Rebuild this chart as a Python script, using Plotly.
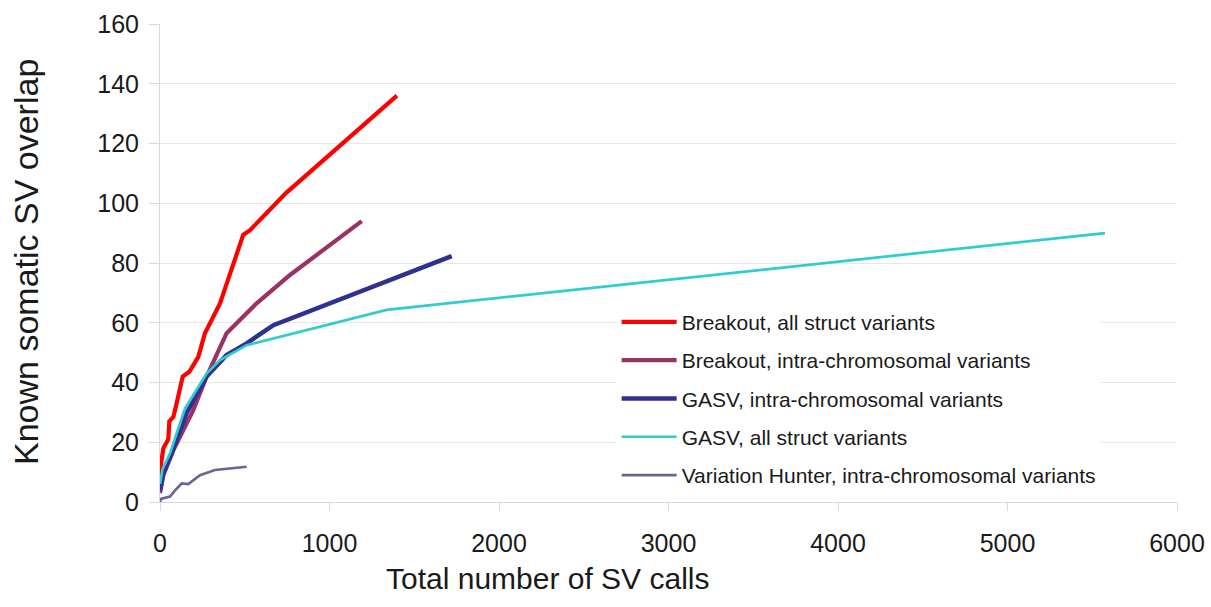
import plotly.graph_objects as go

# ---- data ----
breakout_all_x = [0, 4, 20, 30, 49, 55, 79, 98, 134, 173, 226, 265, 354, 491, 531, 743, 1398]
breakout_all_y = [9, 12, 18, 19, 21, 27, 28.5, 33, 42, 43.6, 48.6, 56.5, 66.5, 89.4, 91, 103.4, 136]

breakout_intra_x = [0, 20, 79, 138, 197, 275, 393, 570, 767, 1190]
breakout_intra_y = [3, 9, 17.4, 24, 30.8, 42, 56.5, 66.5, 76, 94]

gasv_intra_x = [0, 20, 69, 157, 275, 393, 511, 669, 1721]
gasv_intra_y = [4, 10, 16.3, 29.7, 42, 49.2, 53.1, 59.2, 82.3]

gasv_all_x = [0, 15, 59, 147, 275, 354, 511, 1337, 5575]
gasv_all_y = [6, 11, 16.3, 31.3, 43, 47.5, 52.5, 64.3, 90]

vh_intra_x = [0, 5, 59, 90, 128, 167, 236, 324, 511]
vh_intra_y = [0, 1, 1.8, 4, 6.2, 6, 9, 10.7, 11.8]

series_names = [
    "Breakout, all struct variants",
    "Breakout, intra-chromosomal variants",
    "GASV, intra-chromosomal variants",
    "GASV, all struct variants",
    "Variation Hunter, intra-chromosomal variants",
]
x_ticks = [0, 1000, 2000, 3000, 4000, 5000, 6000]
y_ticks = [0, 20, 40, 60, 80, 100, 120, 140, 160]

series = [
    (breakout_all_x, breakout_all_y, "#FF0000", 4.2),
    (breakout_intra_x, breakout_intra_y, "#993366", 4.2),
    (gasv_intra_x, gasv_intra_y, "#2E3192", 4.5),
    (gasv_all_x, gasv_all_y, "#33CCCC", 2.7),
    (vh_intra_x, vh_intra_y, "#666699", 2.7),
]

FONT = "Liberation Sans, Arial, sans-serif"

fig = go.Figure()
for i, ((xs, ys, col, w), name) in enumerate(zip(series, series_names)):
    fig.add_trace(go.Scatter(
        x=xs, y=ys, mode="lines", name=name, legendgroup=f"g{i}",
        line=dict(color=col, width=w),
    ))

fig.update_layout(
    width=1211, height=607,
    margin=dict(l=160, r=34, t=24, b=105),
    paper_bgcolor="white", plot_bgcolor="white",
    font=dict(family=FONT, color="#1a1a1a"),
    showlegend=True,
    legend=dict(
        x=0.449, y=0.419, xanchor="left", yanchor="top",
        bgcolor="white", borderwidth=0,
        font=dict(size=21, family=FONT, color="#1a1a1a"),
        tracegroupgap=8, itemwidth=55,
    ),
    xaxis=dict(
        range=[0, 6000], tickvals=x_ticks, ticktext=[str(v) for v in x_ticks],
        showgrid=False, zeroline=False, automargin=False,
        showline=True, linecolor="#D9D9D9", linewidth=1,
        ticks="outside", ticklen=8, tickcolor="#D9D9D9",
        tickfont=dict(size=25), ticklabelstandoff=11,
        ticklabeloverflow="allow",
    ),
    yaxis=dict(
        range=[0, 160], tickvals=y_ticks, ticktext=[str(v) for v in y_ticks],
        showgrid=True, gridcolor="#E8E8E8", gridwidth=1, zeroline=False, automargin=False,
        showline=True, linecolor="#D9D9D9", linewidth=1,
        ticks="outside", ticklen=10, tickcolor="#D9D9D9",
        tickfont=dict(size=25), ticklabelstandoff=5,
    ),
    annotations=[
        dict(text="Known somatic SV overlap", xref="paper", yref="paper",
             x=(26 - 160) / 1017, y=(502 - 262) / 478, xanchor="center", yanchor="middle",
             textangle=-90, showarrow=False, borderpad=0,
             font=dict(size=34, family=FONT, color="#1a1a1a")),
        dict(text="Total number of SV calls", xref="paper", yref="paper",
             x=(547 - 160) / 1017, y=(502 - 578) / 478, xanchor="center", yanchor="middle",
             showarrow=False, font=dict(size=30, family=FONT, color="#1a1a1a")),
    ],
)

# remove the page's default 8px body margin so the figure fills the window
fig.write_html("out.html", config={"displayModeBar": False},
               post_script="document.body.style.margin='0';")
